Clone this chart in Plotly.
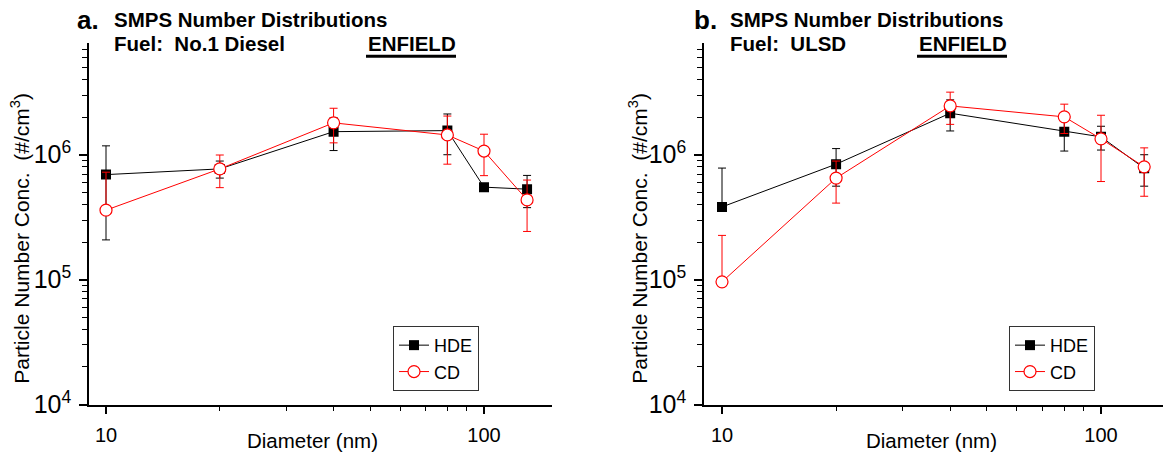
import numpy as np
import plotly.graph_objects as go

# ---------------- data ----------------
diameter = [10, 20, 40, 80, 100, 130]

# panel a: No.1 Diesel
hde_a = [6.93e5, 7.7e5, 1.53e6, 1.56e6, 5.5e5, 5.3e5]
hde_a_err = [4.85e5, 1.2e5, 4.5e5, 5.6e5, 3.0e4, 1.53e5]
cd_a = [3.6e5, 7.7e5, 1.80e6, 1.44e6, 1.07e6, 4.35e5]
cd_a_err = [3.65e5, 2.25e5, 5.55e5, 6.0e5, 3.9e5, 1.92e5]

# panel b: ULSD
hde_b = [3.82e5, 8.4e5, 2.15e6, 1.53e6, 1.39e6, 7.8e5]
hde_b_err = [4.0e5, 2.8e5, 6.0e5, 4.6e5, 3.0e5, 2.2e5]
cd_b = [9.6e4, 6.5e5, 2.46e6, 2.01e6, 1.34e6, 8.0e5]
cd_b_err = [1.3e5, 2.4e5, 7.1e5, 5.3e5, 7.3e5, 3.35e5]

series_names = ["HDE", "CD"]
y_tickvals = [1e4, 1e5, 1e6]
y_ticktext = ["10<sup>4</sup>", "10<sup>5</sup>", "10<sup>6</sup>"]
x_tickvals = [10, 100]
x_ticktext = ["10", "100"]
x_minor = [20, 30, 40, 50, 60, 70, 80, 90]
y_minor = [m * 10 ** e for e in (4, 5, 6) for m in range(2, 10)]

W, H = 1163, 468
FONT = "Liberation Sans, Arial, sans-serif"


def px_x(p):
    return p / W


def px_y(p):
    return (H - p) / H


fig = go.Figure()


def add_series(y, err, name, color, kind, xa, ya, legend):
    y = np.array(y, dtype=float)
    err = np.array(err, dtype=float)
    minus = np.where(err < y, err, 0.0)  # lower bar not drawn when it would go <= 0 on log axis
    if kind == "square":
        marker = dict(symbol="square", size=10, color="black", line=dict(width=0))
    else:
        marker = dict(symbol="circle", size=12, color="white", line=dict(color=color, width=1.2))
    fig.add_trace(go.Scatter(
        x=diameter, y=y, mode="lines+markers", name=name,
        line=dict(color=color, width=1),
        marker=marker,
        error_y=dict(type="data", array=err, arrayminus=minus, color=color,
                     thickness=1, width=4, visible=True),
        xaxis=xa, yaxis=ya, legend=legend,
    ))


add_series(hde_a, hde_a_err, series_names[0], "black", "square", "x", "y", "legend")
add_series(cd_a, cd_a_err, series_names[1], "red", "circle", "x", "y", "legend")
add_series(hde_b, hde_b_err, series_names[0], "black", "square", "x2", "y2", "legend2")
add_series(cd_b, cd_b_err, series_names[1], "red", "circle", "x2", "y2", "legend2")

axis_common = dict(
    type="log", showline=True, linecolor="black", linewidth=1.5,
    ticks="outside", ticklen=8, tickwidth=1.5, tickcolor="black",
    showgrid=False, zeroline=False, mirror=False, tickmode="array",
)

y_dom = [px_y(417), px_y(44)]
y_range = [4, 4 + (417 - 44) / 128.75]

xa = dict(axis_common, tickvals=x_tickvals, ticktext=x_ticktext,
          tickfont=dict(family=FONT, size=20, color="black"), ticklabelstandoff=4,
          minor=dict(ticks="outside", ticklen=5, tickwidth=1.2, tickcolor="black",
                     tickmode="array", tickvals=x_minor, showgrid=False))
ya = dict(axis_common, tickvals=y_tickvals, ticktext=y_ticktext,
          tickfont=dict(family=FONT, size=25, color="black"), ticklabelstandoff=3,
          minor=dict(ticks="outside", ticklen=5, tickwidth=1.2, tickcolor="black",
                     tickmode="array", tickvals=y_minor, showgrid=False),
          range=y_range, domain=y_dom)

fig.update_layout(
    xaxis=dict(xa, domain=[px_x(89), px_x(552)],
               range=[1 - (106 - 89) / 378, 2 + (552 - 484) / 378], anchor="y"),
    yaxis=dict(ya, anchor="x"),
    xaxis2=dict(xa, domain=[px_x(704), 1.0],
                range=[1 - (722 - 704) / 379, 2 + (1163 - 1101) / 379], anchor="y2"),
    yaxis2=dict(ya, anchor="x2"),
)

legend_common = dict(
    xanchor="left", yanchor="top", bordercolor="#333333", borderwidth=1,
    bgcolor="white", font=dict(family=FONT, size=18, color="black"),
    tracegroupgap=0,
)
fig.update_layout(
    legend=dict(legend_common, x=px_x(393), y=px_y(336)),
    legend2=dict(legend_common, x=px_x(1009), y=px_y(336)),
)

annotations = []
shapes = []


def txt(text, x, y, size, bold=False, angle=0, xanchor="left"):
    annotations.append(dict(
        text=f"<b>{text}</b>" if bold else text, x=px_x(x), y=px_y(y),
        xref="paper", yref="paper", xanchor=xanchor, yanchor="middle",
        showarrow=False, textangle=angle,
        font=dict(family=FONT, size=size, color="black"),
    ))


panels = [
    dict(letter="a.", fuel="No.1 Diesel", lx=75, tx=112, ex=366, ytitle=20, xtitle=312),
    dict(letter="b.", fuel="ULSD", lx=692, tx=728, ex=917, ytitle=638, xtitle=931),
]
for p in panels:
    txt(p["letter"], p["lx"], 21, 26, bold=True)
    txt("SMPS Number Distributions", p["tx"], 20.5, 20.5, bold=True)
    txt("Fuel:\u00a0 " + p["fuel"], p["tx"], 45, 20.5, bold=True)
    txt("ENFIELD", p["ex"], 45, 20.5, bold=True)
    shapes.append(dict(type="line", xref="paper", yref="paper",
                       x0=px_x(p["ex"]), x1=px_x(p["ex"] + 90),
                       y0=px_y(58), y1=px_y(58), line=dict(color="black", width=3)))
    txt("Particle Number Conc.\u00a0 (#/cm<sup>3</sup>)", p["ytitle"], 246, 21, angle=-90,
        xanchor="center")
    txt("Diameter (nm)", p["xtitle"], 454, 20.5, xanchor="center")

fig.update_layout(
    annotations=annotations, shapes=shapes,
    width=W, height=H, autosize=False,
    margin=dict(l=0, r=0, t=0, b=0, pad=0),
    paper_bgcolor="white", plot_bgcolor="white",
    font=dict(family=FONT, color="black"),
    showlegend=True,
)

fig.write_html("out.html")
